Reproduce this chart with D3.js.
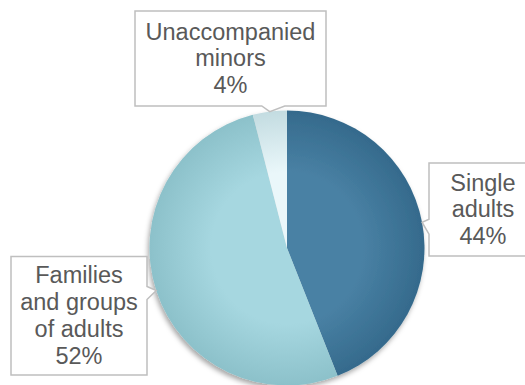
<!DOCTYPE html>
<html>
<head>
<meta charset="utf-8">
<script src="https://cdn.jsdelivr.net/npm/d3@7/dist/d3.min.js"></script>
<style>
  html, body { margin: 0; padding: 0; background: #ffffff; }
  svg { display: block; }
</style>
</head>
<body>
<svg id="chart" width="525" height="385"></svg>
<script>
// Share of arrivals by group (percent)
const categories = ["Single adults", "Families and groups of adults", "Unaccompanied minors"];
const values = [44, 52, 4];
const labelLines = [
  ["Single", "adults"],
  ["Families", "and groups", "of adults"],
  ["Unaccompanied", "minors"]
];
const rimColors = ["#356a8c", "#8cc1ca", "#c3dce1"];
const coreColors = ["#4981a4", "#a6d7e0", "#eaf7fa"];

const W = 525, H = 385;
const cx = 287, cy = 248, R = 137.5;

const svg = d3.select("#chart");
const defs = svg.append("defs");

// soft shadow beneath the pie
const shadow = defs.append("filter").attr("id", "pieShadow")
  .attr("x", "-20%").attr("y", "-20%").attr("width", "140%").attr("height", "140%");
shadow.append("feDropShadow")
  .attr("dx", -1.5).attr("dy", 3).attr("stdDeviation", 2.5)
  .attr("flood-color", "#000").attr("flood-opacity", 0.35);

// radial shading per slice: lighter core, darker rim
categories.forEach((c, i) => {
  const g = defs.append("radialGradient").attr("id", "grad" + i)
    .attr("gradientUnits", "userSpaceOnUse")
    .attr("cx", 0).attr("cy", 0).attr("r", R);
  g.append("stop").attr("offset", "0%").attr("stop-color", coreColors[i]);
  g.append("stop").attr("offset", "55%").attr("stop-color", coreColors[i]);
  g.append("stop").attr("offset", "100%").attr("stop-color", rimColors[i]);
});

const pie = d3.pie().sort(null).value(d => d)(values);
const arc = d3.arc().innerRadius(0).outerRadius(R);

const pieG = svg.append("g").attr("transform", `translate(${cx},${cy})`)
  .attr("filter", "url(#pieShadow)");
pieG.selectAll("path").data(pie).join("path")
  .attr("d", arc)
  .attr("fill", (d, i) => `url(#grad${i})`);

// callout boxes: edge rectangle, side carrying the pointer, pointer base offsets
const boxes = [
  { x0: 429, y0: 163, x1: 537, y1: 256, side: "left",   base: [-3, 12] },
  { x0: 11,  y0: 256.5, x1: 147, y1: 375, side: "right", base: [-4, 9] },
  { x0: 135, y0: 11,  x1: 326, y1: 106, side: "bottom", base: [-8, 15] }
];

const lineH = 26.7;
const fontSize = 23.5;

pie.forEach((d, i) => {
  const b = boxes[i];
  const mid = (d.startAngle + d.endAngle) / 2;
  const ax = cx + R * Math.sin(mid);
  const ay = cy - R * Math.cos(mid);
  let p;
  if (b.side === "bottom") {
    p = [[b.x0, b.y0], [b.x1, b.y0], [b.x1, b.y1], [ax + b.base[1], b.y1], [ax, ay], [ax + b.base[0], b.y1], [b.x0, b.y1]];
  } else if (b.side === "left") {
    p = [[b.x0, b.y0], [b.x1, b.y0], [b.x1, b.y1], [b.x0, b.y1], [b.x0, ay + b.base[1]], [ax, ay], [b.x0, ay + b.base[0]]];
  } else {
    p = [[b.x0, b.y0], [b.x1, b.y0], [b.x1, ay + b.base[0]], [ax, ay], [b.x1, ay + b.base[1]], [b.x1, b.y1], [b.x0, b.y1]];
  }
  svg.append("path")
    .attr("d", d3.line()(p) + "Z")
    .attr("fill", "#ffffff")
    .attr("stroke", "#bfbfbf")
    .attr("stroke-width", 1.5);

  const lines = labelLines[i].concat([values[i] + "%"]);
  const tx = (b.x0 + b.x1) / 2;
  const tyc = (b.y0 + b.y1) / 2;
  const first = tyc - (lines.length - 1) / 2 * lineH + 0.33 * fontSize;
  const t = svg.append("text")
    .attr("font-family", "'Liberation Sans', Arial, sans-serif")
    .attr("font-size", fontSize)
    .attr("fill", "#595959")
    .attr("text-anchor", "middle");
  lines.forEach((s, k) => {
    t.append("tspan").attr("x", tx).attr("y", first + k * lineH).text(s);
  });
});
</script>
</body>
</html>
